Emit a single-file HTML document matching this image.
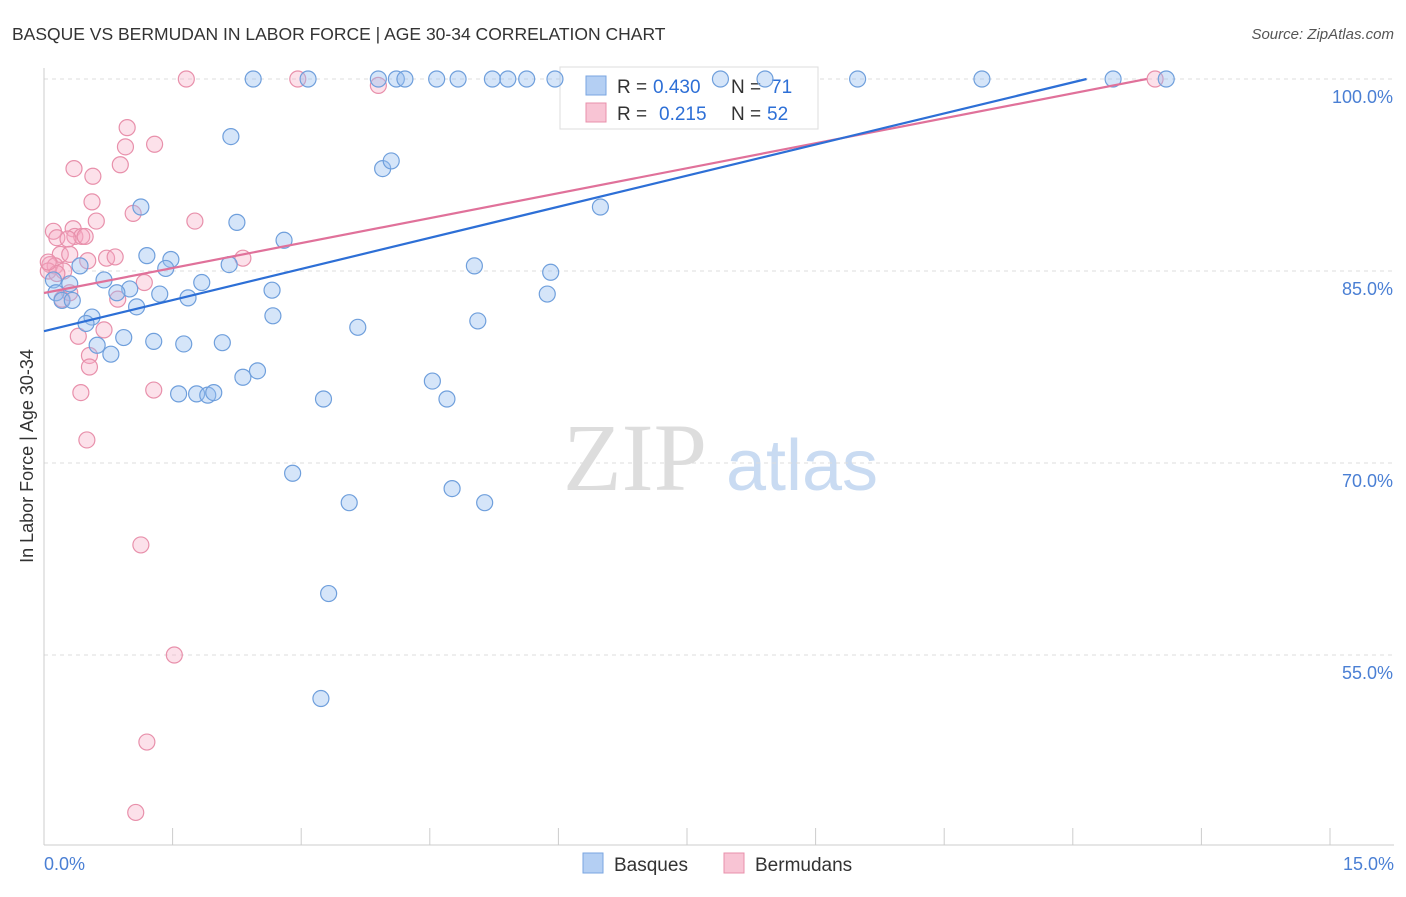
<!DOCTYPE html>
<html><head><meta charset="utf-8"><style>
body{margin:0;background:#fff;font-family:"Liberation Sans",sans-serif;}
</style></head><body>
<svg id="chart" width="1406" height="892" xmlns="http://www.w3.org/2000/svg" style="font-family:'Liberation Sans',sans-serif">
<text x="12" y="40" font-size="17.5" fill="#333">BASQUE VS BERMUDAN IN LABOR FORCE | AGE 30-34 CORRELATION CHART</text>
<text x="1394" y="39" font-size="15" fill="#555" text-anchor="end" font-style="italic">Source: ZipAtlas.com</text>
<text transform="translate(33,456) rotate(-90)" font-size="18" fill="#333" text-anchor="middle">In Labor Force | Age 30-34</text>
<g>
<text x="635" y="490" font-size="96" fill="#ddd" text-anchor="middle" font-family="'Liberation Serif',serif">ZIP</text>
<text x="802" y="490" font-size="72" fill="#c9dbf2" text-anchor="middle">atlas</text>
</g>
<g id="grid"></g><g id="axes"></g>
<g>
<rect x="560" y="67" width="258" height="62" fill="#fff" stroke="#ddd"/>
<rect x="586" y="76" width="20" height="19" fill="#b4cff3" stroke="#7aa6e0"/>
<text x="617" y="93" font-size="19" fill="#333">R =</text>
<text x="653" y="93" font-size="19" fill="#2d6fd6">0.430</text>
<text x="731" y="93" font-size="19" fill="#333">N =</text>
<text x="771" y="93" font-size="19" fill="#2d6fd6">71</text>
<rect x="586" y="103" width="20" height="19" fill="#f8c4d4" stroke="#e890ab"/>
<text x="617" y="120" font-size="19" fill="#333">R =</text>
<text x="659" y="120" font-size="19" fill="#2d6fd6">0.215</text>
<text x="731" y="120" font-size="19" fill="#333">N =</text>
<text x="767" y="120" font-size="19" fill="#2d6fd6">52</text>
</g>
<g id="pts"></g><g id="lines"></g>
<g>
<rect x="583" y="853" width="20" height="20" fill="#b4cff3" stroke="#7aa6e0"/>
<text x="614" y="871" font-size="19" fill="#333">Basques</text>
<rect x="724" y="853" width="20" height="20" fill="#f8c4d4" stroke="#e890ab"/>
<text x="755" y="871" font-size="19" fill="#333">Bermudans</text>
</g>
</svg>
<script>
const yTicks=[100,85,70,55];
const xTickLabels=["0.0%","15.0%"];
const blueX=[2.44,3.08,3.90,4.11,4.21,4.58,4.83,5.23,5.41,5.63,5.96,7.89,8.41,9.49,10.94,12.47,13.09,2.18,3.95,4.05,1.13,6.49,2.25,2.80,1.20,1.48,1.42,2.16,5.02,5.91,0.42,0.70,1.84,0.11,0.14,0.21,0.33,1.00,0.85,1.35,1.68,2.66,1.08,0.56,0.49,2.67,3.66,5.06,5.87,0.93,1.28,1.63,2.08,0.62,0.78,2.49,2.32,1.57,1.78,1.91,1.98,3.26,4.53,4.70,2.90,4.76,3.56,5.14,3.32,3.23,0.3];
const blueY=[100,100,100,100,100,100,100,100,100,100,100,100,100,100,100,100,100,95.5,93.0,93.6,90.0,90.0,88.8,87.4,86.2,85.9,85.2,85.5,85.4,84.9,85.4,84.3,84.1,84.3,83.3,82.7,82.7,83.6,83.3,83.2,82.9,83.5,82.2,81.4,80.9,81.5,80.6,81.1,83.2,79.8,79.5,79.3,79.4,79.2,78.5,77.2,76.7,75.4,75.4,75.3,75.5,75.0,76.4,75.0,69.2,68.0,66.9,66.9,59.8,51.6,84.0];
const pinkX=[1.66,2.96,3.90,12.96,0.97,1.29,0.95,0.89,0.35,0.57,0.56,0.61,1.04,1.76,0.11,0.15,0.34,0.36,0.44,0.48,0.28,0.19,0.30,0.73,0.83,2.32,0.51,0.07,0.13,0.05,0.23,0.15,1.17,0.21,0.86,0.70,0.40,0.53,0.53,0.43,1.28,0.50,1.13,1.52,1.20,1.07,0.05,0.30];
const pinkY=[100,100,99.5,100,96.2,94.9,94.7,93.3,93.0,92.4,90.4,88.9,89.5,88.9,88.1,87.6,88.3,87.7,87.7,87.7,87.5,86.3,86.3,86.0,86.1,86.0,85.8,85.5,85.4,85.0,85.0,84.8,84.1,82.8,82.8,80.4,79.9,78.4,77.5,75.5,75.7,71.8,63.6,55.0,48.2,42.7,85.7,83.3];
const blueFit=[80.3,1.62], pinkFit=[83.28,1.30];
const X0=44,X1=1330,Y100=79,PPY=12.8;
const sx=v=>X0+(v/15)*(X1-X0), sy=v=>Y100+(100-v)*PPY;
const NS="http://www.w3.org/2000/svg";
function mk(t,a,p){const e=document.createElementNS(NS,t);for(const k in a)e.setAttribute(k,a[k]);document.getElementById(p).appendChild(e);return e;}
yTicks.forEach(v=>{
 const l=mk('line',{x1:X0,x2:1394,y1:sy(v),y2:sy(v),stroke:'#ddd','stroke-dasharray':'4,4'},'grid');
 
 
 const t=mk('text',{x:1393,y:sy(v)+24,'font-size':18,fill:'#4a7fd4','text-anchor':'end'},'axes');
 t.textContent=v.toFixed(1)+'%';
 
 
});
mk('line',{x1:X0,x2:X0,y1:68,y2:845,stroke:'#ccc'},'axes');
mk('line',{x1:X0,x2:1394,y1:845,y2:845,stroke:'#ccc'},'axes');
for(let i=0;i<=10;i++){const x=sx(i*1.5);const l=mk('line',{x1:x,x2:x,y1:828,y2:845,stroke:'#ccc'},'axes');
 
 }
const xl0=mk('text',{x:44,y:870,'font-size':18,fill:'#4a7fd4'},'axes');xl0.textContent=xTickLabels[0];


const xl1=mk('text',{x:1394,y:870,'font-size':18,fill:'#4a7fd4','text-anchor':'end'},'axes');xl1.textContent=xTickLabels[1];


pinkX.forEach((x,i)=>{const c=mk('circle',{cx:sx(x),cy:sy(pinkY[i]),r:8,fill:'rgba(245,170,195,0.35)',stroke:'#e890ab','stroke-width':1.2},'pts');
 
 });
blueX.forEach((x,i)=>{const c=mk('circle',{cx:sx(x),cy:sy(blueY[i]),r:8,fill:'rgba(150,190,240,0.4)',stroke:'#6f9fdc','stroke-width':1.2},'pts');
 
 });
function fit(f,col,name){const xe=Math.min(15,(100-f[0])/f[1]);
 const l=mk('line',{x1:sx(0),y1:sy(f[0]),x2:sx(xe),y2:sy(f[0]+f[1]*xe),stroke:col,'stroke-width':2.2},'lines');
 
 }
fit(pinkFit,'#e0719a','bermudan-trend-line');
fit(blueFit,'#2d6fd6','basque-trend-line');
</script>
</body></html>
